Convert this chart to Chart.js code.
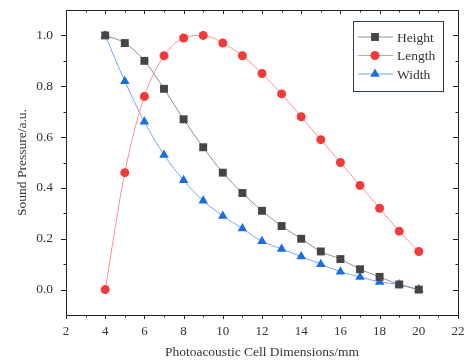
<!DOCTYPE html>
<html>
<head>
<meta charset="utf-8">
<script src="https://cdn.jsdelivr.net/npm/chart.js@4/dist/chart.umd.min.js"></script>
<style>
  html, body { margin: 0; background: #fff; }
  #wrap { width: 467px; height: 363px; }
</style>
</head>
<body>
<div id="wrap"><canvas id="chart"></canvas></div>
<script>
// cell dimension (mm) and normalised sound pressure for each varied side
const cellSize = [4, 5, 6, 7, 8, 9, 10, 11, 12, 13, 14, 15, 16, 17, 18, 19, 20];
const heightValues = [1.0, 0.97, 0.90, 0.79, 0.67, 0.56, 0.46, 0.38, 0.31, 0.25, 0.20, 0.15, 0.12, 0.08, 0.05, 0.02, 0.0];
const lengthValues = [0.0, 0.46, 0.76, 0.92, 0.99, 1.0, 0.97, 0.92, 0.85, 0.77, 0.68, 0.59, 0.50, 0.41, 0.32, 0.23, 0.15];
const widthValues = [1.0, 0.82, 0.66, 0.53, 0.43, 0.35, 0.29, 0.24, 0.19, 0.16, 0.13, 0.10, 0.07, 0.05, 0.03, 0.02, 0.0];
const seriesNames = ['Height', 'Length', 'Width'];

const xTickValues = [2, 4, 6, 8, 10, 12, 14, 16, 18, 20, 22];
const yTickValues = [0.0, 0.2, 0.4, 0.6, 0.8, 1.0];

const serif = "'Liberation Serif', 'Times New Roman', serif";

function points(values) {
  return cellSize.map((s, i) => ({ x: s, y: values[i] }));
}

// frame + ticks like the original plot (left/bottom out, top/right in)
const framePlugin = {
  id: 'frame',
  afterDraw(chart) {
    const { ctx, chartArea: a, scales } = chart;
    const x = scales.x, y = scales.y;
    ctx.save();
    ctx.strokeStyle = '#222';
    ctx.lineWidth = 1;
    ctx.strokeRect(a.left + 0.5, a.top + 0.5, a.right - a.left, a.bottom - a.top);
    ctx.beginPath();
    for (let v = x.min; v <= x.max; v += 1) {
      const px = Math.round(x.getPixelForValue(v)) + 0.5;
      const len = v % 2 === 0 ? 4 : 2.5;
      ctx.moveTo(px, a.bottom); ctx.lineTo(px, a.bottom + len);
      ctx.moveTo(px, a.top); ctx.lineTo(px, a.top + len);
    }
    for (let k = 0; k <= 10; k++) {
      const v = k / 10;
      const py = Math.round(y.getPixelForValue(v)) + 0.5;
      const len = k % 2 === 0 ? 5 : 2.5;
      ctx.moveTo(a.left - len, py); ctx.lineTo(a.left, py);
      ctx.moveTo(a.right - len, py); ctx.lineTo(a.right, py);
    }
    ctx.stroke();
    ctx.restore();
  }
};

// boxed legend inside the plot, line + marker + name
const boxLegend = {
  id: 'boxLegend',
  afterDraw(chart) {
    const { ctx, chartArea: a } = chart;
    const w = 90, h = 70;
    const left = a.right - 15 - w, top = a.top + 11;
    ctx.save();
    ctx.fillStyle = '#fff';
    ctx.fillRect(left, top, w, h);
    ctx.strokeStyle = '#2c3e4c';
    ctx.lineWidth = 1;
    ctx.strokeRect(left + 0.5, top + 0.5, w, h);
    ctx.font = "13.5px " + serif;
    ctx.textBaseline = 'middle';
    chart.data.datasets.forEach((ds, i) => {
      const cy = top + 16 + i * 18.5;
      ctx.strokeStyle = ds.borderColor;
      ctx.lineWidth = 1;
      ctx.beginPath();
      ctx.moveTo(left + 5, cy); ctx.lineTo(left + 40, cy);
      ctx.stroke();
      ctx.fillStyle = ds.pointBackgroundColor;
      ctx.strokeStyle = ds.pointBackgroundColor;
      Chart.helpers.drawPoint(ctx, { pointStyle: ds.pointStyle, radius: ds.pointRadius, rotation: 0, borderWidth: 0 }, left + 22, cy);
      ctx.fillStyle = '#333';
      ctx.fillText(ds.label, left + 44, cy + 1);
    });
    ctx.restore();
  }
};

new Chart(document.getElementById('chart'), {
  type: 'line',
  data: {
    datasets: [
      {
        label: seriesNames[0],
        data: points(heightValues),
        borderColor: '#8e8e8e',
        borderWidth: 1,
        pointStyle: 'rect',
        pointRadius: 5.6,
        pointBackgroundColor: '#454545',
        pointBorderWidth: 0,
        cubicInterpolationMode: 'monotone'
      },
      {
        label: seriesNames[1],
        data: points(lengthValues),
        borderColor: '#ff8f8f',
        borderWidth: 1,
        pointStyle: 'circle',
        pointRadius: 4.5,
        pointBackgroundColor: '#f23a3a',
        pointBorderWidth: 0,
        cubicInterpolationMode: 'monotone'
      },
      {
        label: seriesNames[2],
        data: points(widthValues),
        borderColor: '#72a6ee',
        borderWidth: 1,
        pointStyle: 'triangle',
        pointRadius: 5.5,
        pointBackgroundColor: '#1c6ee0',
        pointBorderWidth: 0,
        cubicInterpolationMode: 'monotone'
      }
    ]
  },
  options: {
    responsive: true,
    maintainAspectRatio: false,
    animation: false,
    layout: { padding: { top: 10, right: 9, left: 0, bottom: 0 } },
    plugins: { legend: { display: false }, tooltip: { enabled: false } },
    scales: {
      x: {
        type: 'linear',
        min: 2,
        max: 22,
        afterBuildTicks: s => { s.ticks = xTickValues.map(v => ({ value: v })); },
        afterFit: s => { s.height = 48; s.paddingLeft = 0; s.paddingRight = 0; },
        grid: { display: false, drawTicks: false },
        border: { display: false },
        ticks: { color: '#333', font: { family: serif, size: 13 }, padding: 9, maxRotation: 0 },
        title: {
          display: true,
          text: 'Photoacoustic Cell Dimensions/mm',
          color: '#333',
          font: { family: serif, size: 13.5 },
          padding: { top: 0, bottom: 2 }
        }
      },
      y: {
        min: -0.1,
        max: 1.1,
        afterBuildTicks: s => { s.ticks = yTickValues.map(v => ({ value: v })); },
        afterFit: s => { s.width = 66; s.paddingTop = 0; s.paddingBottom = 0; },
        grid: { display: false, drawTicks: false },
        border: { display: false },
        ticks: {
          color: '#333',
          font: { family: serif, size: 13.5 },
          padding: 13,
          callback: v => v.toFixed(1)
        },
        title: {
          display: true,
          text: 'Sound Pressure/a.u.',
          color: '#333',
          font: { family: serif, size: 13.5 },
          padding: { top: 14, bottom: 0 }
        }
      }
    }
  },
  plugins: [framePlugin, boxLegend]
});
</script>
</body>
</html>
